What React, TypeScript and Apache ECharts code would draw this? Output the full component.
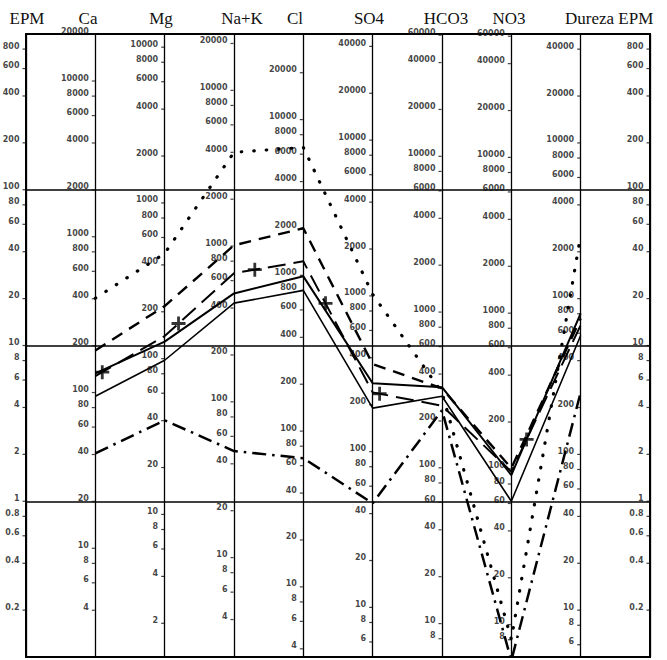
import React, { useEffect, useRef } from 'react';
import * as echarts from 'echarts';

// ---- data ----
const HEADERS = ['EPM', 'Ca', 'Mg', 'Na+K', 'Cl', 'SO4', 'HCO3', 'NO3', 'Dureza EPM'];
const COLUMNS = ['EPM', 'Ca', 'Mg', 'Na+K', 'Cl', 'SO4', 'HCO3', 'NO3', 'Dureza', 'EPM'];
// mg/L per meq/L for each column (EPM columns = 1)
const EQ_WEIGHTS = [1, 20.04, 12.15, 23.0, 35.45, 48.03, 61.02, 62.0, 50.04, 1];

const EPM_TICKS = [800, 600, 400, 200, 100, 80, 60, 40, 20, 10, 8, 6, 4, 2, 1, 0.8, 0.6, 0.4, 0.2];
const CA_TICKS = [20000, 10000, 8000, 6000, 4000, 2000, 1000, 800, 600, 400, 200, 100, 80, 60, 40, 20, 10, 8, 6, 4];
const MG_TICKS = [10000, 8000, 6000, 4000, 2000, 1000, 800, 600, 400, 200, 100, 80, 60, 40, 20, 10, 8, 6, 4, 2];
const NAK_TICKS = [20000, 10000, 8000, 6000, 4000, 2000, 1000, 800, 600, 400, 200, 100, 80, 60, 40, 20, 10, 8, 6, 4];
const CL_TICKS = [20000, 10000, 8000, 6000, 4000, 2000, 1000, 800, 600, 400, 200, 100, 80, 60, 40, 20, 10, 8, 6, 4];
const SO4_TICKS = [40000, 20000, 10000, 8000, 6000, 4000, 2000, 1000, 800, 600, 400, 200, 100, 80, 60, 40, 20, 10, 8, 6];
const HCO3_TICKS = [60000, 40000, 20000, 10000, 8000, 6000, 4000, 2000, 1000, 800, 600, 400, 200, 100, 80, 60, 40, 20, 10, 8];
const NO3_TICKS = [60000, 40000, 20000, 10000, 8000, 6000, 4000, 2000, 1000, 800, 600, 400, 200, 100, 80, 60, 40, 20, 10, 8];
const DUREZA_TICKS = [40000, 20000, 10000, 8000, 6000, 4000, 2000, 1000, 800, 600, 400, 200, 100, 80, 60, 40, 20, 10, 8, 6];
const COLUMN_TICKS = [EPM_TICKS, CA_TICKS, MG_TICKS, NAK_TICKS, CL_TICKS, SO4_TICKS, HCO3_TICKS, NO3_TICKS, DUREZA_TICKS, EPM_TICKS];

// samples, in EPM (meq/L), for Ca, Mg, Na+K, Cl, SO4, HCO3, NO3, Dureza
const SAMPLE_DOTTED = [20.1, 39, 174, 187, 21.3, 5.0, 0.13, 51];
const SAMPLE_LONGDASH = [9.3, 17.9, 44, 56.6, 7.6, 5.3, 1.63, 14.9];
const SAMPLE_CROSS = [6.35, 11.5, 29.1, 34.7, 5.0, 4.1, 1.55, 13.5];
const SAMPLE_SOLID_A = [6.63, 10.6, 21.6, 27.8, 5.72, 5.4, 1.47, 16.1];
const SAMPLE_SOLID_B = [4.72, 8.04, 18.7, 22.6, 3.96, 4.72, 1.0, 11.6];
const SAMPLE_DASHDOT = [2.03, 3.31, 2.1, 1.89, 0.97, 3.84, 0.095, 5.0];

// where the "+" marks fall along the cross-dashed line (segment index, fraction)
const CROSS_MARKS: [number, number][] = [[0, 0.1], [1, 0.2], [2, 0.3], [3, 0.32], [4, 0.1], [6, 0.22]];

const HEADER_X = [27, 88, 161, 242, 295, 369, 446, 509, 565];

function toPts(vals: number[]) {
  return vals.map((v, i) => [i + 1, v]);
}

export default function App() {
  const ref = useRef<HTMLDivElement>(null);
  useEffect(() => {
    if (!ref.current) return;
    const chart = echarts.init(ref.current, null, { renderer: 'svg' });

    const tickSeries = COLUMN_TICKS.map((ticks, j) => ({
      type: 'scatter',
      silent: true,
      z: 3,
      symbol: 'rect',
      symbolSize: [3, 1.2],
      symbolOffset: [-2, 0],
      itemStyle: { color: '#111' },
      data: ticks.map((v) => ({ value: [j, v / EQ_WEIGHTS[j]], name: String(v) })),
      label: {
        show: true,
        position: 'left',
        distance: 3,
        offset: [0, -3],
        formatter: (p: any) => p.name,
        fontFamily: 'DejaVu Sans',
        fontSize: 8,
        fontWeight: 'bold',
        color: '#111',
      },
    }));

    const crossData = CROSS_MARKS.map(([seg, f]) => {
      const a = SAMPLE_CROSS[seg];
      const b = SAMPLE_CROSS[seg + 1];
      const v = Math.pow(10, Math.log10(a) + f * (Math.log10(b) - Math.log10(a)));
      return [seg + 1 + f, v];
    });

    const line = (data: number[], lineStyle: any, z = 5) => ({
      type: 'line',
      silent: true,
      symbol: 'none',
      z,
      data: toPts(data),
      lineStyle: { color: '#000', ...lineStyle },
    });

    const option: any = {
      animation: false,
      backgroundColor: '#fff',
      grid: {
        left: 26,
        right: 17,
        top: 34,
        bottom: 3,
        show: true,
        borderColor: '#000',
        borderWidth: 2,
        backgroundColor: 'transparent',
      },
      xAxis: {
        type: 'value',
        min: 0,
        max: 9,
        interval: 1,
        axisLabel: { show: false },
        axisTick: { show: false },
        axisLine: { show: false },
        splitLine: { show: true, lineStyle: { color: '#000', width: 1.3 } },
      },
      yAxis: {
        type: 'log',
        logBase: 10,
        min: 0.1,
        max: 1000,
        axisLabel: { show: false },
        axisTick: { show: false },
        axisLine: { show: false },
        splitLine: { show: true, lineStyle: { color: '#000', width: 1.5 } },
      },
      graphic: HEADERS.map((h, i) => ({
        type: 'text',
        x: HEADER_X[i],
        y: 18,
        style: {
          text: h,
          fill: '#111',
          font: '17px "Liberation Serif"',
          align: i === HEADERS.length - 1 ? 'left' : 'center',
          verticalAlign: 'middle',
        },
      })),
      series: [
        ...tickSeries,
        line(SAMPLE_DOTTED, { width: 3.2, type: [0.5, 12], cap: 'round' }),
        line(SAMPLE_LONGDASH, { width: 2.4, type: [12, 8] }),
        line(SAMPLE_CROSS, { width: 2, type: [18, 8] }),
        line(SAMPLE_SOLID_A, { width: 2, type: 'solid' }),
        line(SAMPLE_SOLID_B, { width: 1.6, type: 'solid' }),
        line(SAMPLE_DASHDOT, { width: 2.5, type: [14, 6, 2.5, 6], cap: 'butt' }),
        {
          type: 'scatter',
          silent: true,
          z: 6,
          symbol: 'path://M4,0h2v4h4v2h-4v4h-2v-4h-4v-2h4z',
          symbolSize: 14,
          itemStyle: { color: '#000' },
          data: crossData,
        },
      ],
    };
    chart.setOption(option);
    return () => chart.dispose();
  }, []);

  return (
    <div
      ref={ref}
      style={{ position: 'fixed', left: 0, top: 0, width: 667, height: 660, background: '#fff' }}
    />
  );
}
